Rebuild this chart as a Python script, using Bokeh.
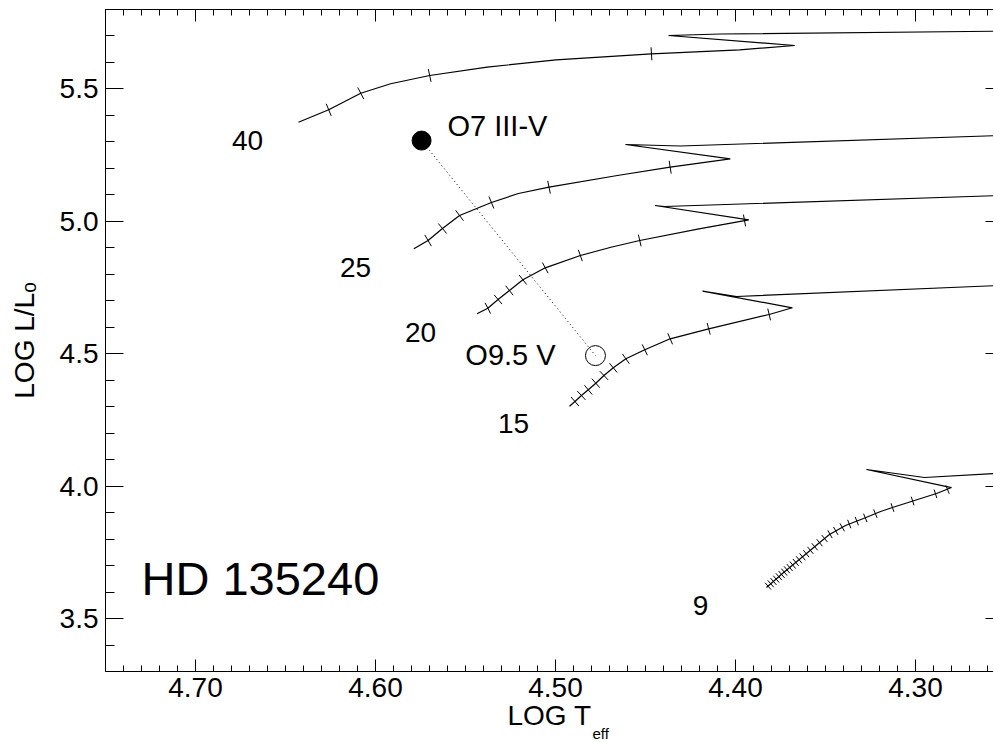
import numpy as np
from bokeh.plotting import figure
from bokeh.models import (Range1d, LinearAxis, SingleIntervalTicker,
                          NumeralTickFormatter, Title)
from bokeh.core.properties import value
from bokeh.embed import file_html
from bokeh.resources import INLINE

# ---------------- data ----------------
# evolutionary tracks (log Teff, log L/Lsun) and their time marks
t40_T = [4.6428, 4.6260, 4.6082, 4.5916, 4.5699, 4.5380, 4.4997, 4.4467, 4.3977, 4.3671, 4.4372, 4.4083, 4.2528]
t40_L = [5.3744, 5.4212, 5.4839, 5.5195, 5.5508, 5.5821, 5.6100, 5.6327, 5.6478, 5.6640, 5.7018, 5.7075, 5.7181]
k40_T = [4.6260, 4.6082, 4.5699, 4.4467]
k40_L = [5.4212, 5.4839, 5.5508, 5.6327]

t25_T = [4.5787, 4.5708, 4.5628, 4.5533, 4.5356, 4.5206, 4.5036, 4.4656, 4.4363, 4.4029, 4.4611, 4.4306, 4.2528]
t25_L = [4.8963, 4.9276, 4.9730, 5.0220, 5.0711, 5.1051, 5.1289, 5.1731, 5.2045, 5.2362, 5.2902, 5.2845, 5.3242]
k25_T = [4.5708, 4.5628, 4.5533, 4.5356, 4.5036, 4.4363]
k25_L = [4.9276, 4.9730, 5.0220, 5.0711, 5.1289, 5.2045]

t20_T = [4.5436, 4.5376, 4.5319, 4.5256, 4.5181, 4.5057, 4.4862, 4.4692, 4.4532, 4.4203, 4.3926, 4.4447, 4.4394, 4.2528]
t20_L = [4.6508, 4.6720, 4.7048, 4.7388, 4.7792, 4.8245, 4.8710, 4.9023, 4.9276, 4.9718, 5.0058, 5.0598, 5.0560, 5.0976]
k20_T = [4.5376, 4.5319, 4.5256, 4.5181, 4.5057, 4.4862, 4.4532, 4.3950]
k20_L = [4.6720, 4.7048, 4.7388, 4.7792, 4.8245, 4.8710, 4.9276, 5.0033]

t15_T = [4.4922, 4.4892, 4.4856, 4.4818, 4.4776, 4.4731, 4.4679, 4.4609, 4.4504, 4.4363, 4.4149, 4.3813, 4.3684, 4.4183, 4.3994, 4.2528]
t15_L = [4.3019, 4.3196, 4.3423, 4.3638, 4.3887, 4.4178, 4.4469, 4.4809, 4.5149, 4.5564, 4.5942, 4.6482, 4.6735, 4.7362, 4.7162, 4.7580]
k15_T = [4.4892, 4.4856, 4.4818, 4.4776, 4.4731, 4.4679, 4.4609, 4.4504, 4.4363, 4.4149, 4.3813]
k15_L = [4.3196, 4.3423, 4.3638, 4.3887, 4.4178, 4.4469, 4.4809, 4.5149, 4.5564, 4.5942, 4.6482]

t9_T = [4.3828, 4.3739, 4.3639, 4.3539, 4.3478, 4.3389, 4.3289, 4.3194, 4.3128, 4.3006, 4.2883, 4.2800, 4.3272, 4.2950, 4.2533]
t9_L = [3.6172, 3.6700, 3.7267, 3.7833, 3.8173, 3.8513, 3.8777, 3.9041, 3.9192, 3.9456, 3.9721, 3.9947, 4.0628, 4.0326, 4.0489]
k9_T = [4.3819, 4.3804, 4.3789, 4.3774, 4.3759, 4.3744, 4.3729, 4.3714, 4.3699, 4.3682,
        4.3665, 4.3647, 4.3628, 4.3607, 4.3584, 4.3560, 4.3533, 4.3505, 4.3475, 4.3443,
        4.3407, 4.3368, 4.3326, 4.3279, 4.3223, 4.3128, 4.3016, 4.2889, 4.2822]
k9_L = [3.6222, 3.6312, 3.6398, 3.6489, 3.6579, 3.6666, 3.6753, 3.6840, 3.6927, 3.7021,
        3.7119, 3.7221, 3.7331, 3.7448, 3.7576, 3.7712, 3.7863, 3.8021, 3.8184, 3.8308,
        3.8444, 3.8569, 3.8678, 3.8803, 3.8962, 3.9192, 3.9438, 3.9710, 3.9872]

mass_labels = ["40", "25", "20", "15", "9"]
mass_T = [4.6711, 4.6111, 4.5750, 4.5233, 4.4194]
mass_L = [5.3053, 4.8257, 4.5802, 4.2366, 3.5492]

# stars: O7 III-V and O9.5 V components
star_names = ["O7 III-V", "O9.5 V"]
star_T = [4.5744, 4.4778]
star_L = [5.3050, 4.4930]
name_T = [4.5600, 4.5250]
name_L = [5.3582, 4.4934]

object_name = "HD 135240"
object_T, object_L = 4.7300, 3.6512

x_title, x_title_sub = "LOG T", "eff"
y_title = "LOG L/L\u2092"

# ---------------- figure ----------------
FW, FH = 888, 662
X0, X1 = 4.75, 4.75 - FW / 1800.0
Y0, Y1 = 3.3, 5.8
SX = FW / (X0 - X1)
SY = FH / (Y1 - Y0)

FONT = value("Liberation Sans")

p = figure(frame_width=FW, frame_height=FH,
           x_range=Range1d(X0, X1), y_range=Range1d(Y0, Y1),
           x_axis_type=None, y_axis_type=None,
           output_backend="svg", toolbar_location=None,
           min_border_left=105, min_border_right=0,
           min_border_top=9, min_border_bottom=70)
p.outline_line_color = None
p.background_fill_color = "white"
p.border_fill_color = "white"


def make_axis(interval, nminor, maj_in, min_in, labels, fmt=None):
    ax = LinearAxis(ticker=SingleIntervalTicker(interval=interval, num_minor_ticks=nminor))
    ax.axis_line_color = "black"
    ax.axis_line_width = 1
    ax.major_tick_line_color = "black"
    ax.minor_tick_line_color = "black"
    ax.major_tick_in = maj_in
    ax.major_tick_out = 0
    ax.minor_tick_in = min_in
    ax.minor_tick_out = 0
    if labels:
        ax.formatter = NumeralTickFormatter(format=fmt)
        ax.major_label_text_font = "Liberation Sans"
        ax.major_label_text_font_size = "28px"
        ax.major_label_text_color = "black"
    else:
        ax.major_label_text_font_size = "0px"
        ax.major_label_text_color = None
        ax.major_label_text_alpha = 0
        ax.major_label_standoff = 0
    return ax


bottom = make_axis(0.1, 10, 12, 6, True, "0.00")
bottom.major_label_standoff = 6
bottom.axis_label = x_title
bottom.axis_label_standoff = 0
bottom.axis_label_text_font = "Liberation Sans"
bottom.axis_label_text_font_size = "28px"
bottom.axis_label_text_font_style = "normal"
bottom.axis_label_text_color = "black"

left = make_axis(0.5, 5, 18, 9, True, "0.0")
left.major_label_standoff = 7
left.axis_label = y_title
left.axis_label_standoff = 17
left.axis_label_text_font = "Liberation Sans"
left.axis_label_text_font_size = "28px"
left.axis_label_text_font_style = "normal"
left.axis_label_text_color = "black"

top = make_axis(0.1, 10, 12, 6, False)
right = make_axis(0.5, 5, 8, 0, False)
right.axis_line_color = None

p.add_layout(bottom, "below")
p.add_layout(top, "above")
p.add_layout(left, "left")
p.add_layout(right, "right")

# subscript "eff" of the x-axis title
p.add_layout(Title(text=x_title_sub, align="left", offset=487, vertical_align="top",
                   standoff=-18, text_font="Liberation Sans", text_font_size="15px",
                   text_font_style="normal", text_color="black"), "below")


def tick_segments(kT, kL, T, L, half):
    X = (X0 - np.asarray(T)) * SX
    Y = np.asarray(L) * SY
    out = ([], [], [], [])
    for t, l in zip(kT, kL):
        px, py = (X0 - t) * SX, l * SY
        best = None
        for i in range(len(X) - 1):
            vx, vy = X[i + 1] - X[i], Y[i + 1] - Y[i]
            l2 = vx * vx + vy * vy
            u = min(1.0, max(0.0, ((px - X[i]) * vx + (py - Y[i]) * vy) / l2))
            d = (X[i] + u * vx - px) ** 2 + (Y[i] + u * vy - py) ** 2
            if best is None or d < best[0]:
                best = (d, vx, vy)
        _, vx, vy = best
        n = np.hypot(vx, vy)
        nx, ny = -vy / n, vx / n
        out[0].append(t - nx * half / SX)
        out[1].append(l + ny * half / SY)
        out[2].append(t + nx * half / SX)
        out[3].append(l - ny * half / SY)
    return out


tracks = [(t40_T, t40_L, k40_T, k40_L, 6.5),
          (t25_T, t25_L, k25_T, k25_L, 6.5),
          (t20_T, t20_L, k20_T, k20_L, 6.0),
          (t15_T, t15_L, k15_T, k15_L, 6.0),
          (t9_T, t9_L, k9_T, k9_L, 4.5)]

for T, L, kT, kL, half in tracks:
    p.line(T, L, line_color="black", line_width=1.2)
    x0, y0, x1, y1 = tick_segments(kT, kL, T, L, half)
    p.segment(x0, y0, x1, y1, line_color="black", line_width=1)

# dotted connection between the two stars
p.line(star_T, star_L, line_color="black", line_width=1, line_dash="1 3")
p.scatter([star_T[0]], [star_L[0]], size=19, marker="circle",
          fill_color="black", line_color="black")
p.scatter([star_T[1]], [star_L[1]], size=20, marker="circle",
          fill_color=None, line_color="black", line_width=1)

p.text(mass_T, mass_L, text=mass_labels, text_font=FONT, text_font_size="28px",
       text_align="center", text_baseline="middle", text_color="black")
p.text([name_T[0]], [name_L[0]], text=[star_names[0]], text_font=FONT, text_font_size="29px",
       text_align="left", text_baseline="middle", text_color="black")
p.text([name_T[1]], [name_L[1]], text=[star_names[1]], text_font=FONT, text_font_size="29px",
       text_align="center", text_baseline="middle", text_color="black")
p.text([object_T], [object_L], text=[object_name], text_font=FONT, text_font_size="47px",
       text_align="left", text_baseline="middle", text_color="black")

open("out.html", "w").write(file_html(p, INLINE))
